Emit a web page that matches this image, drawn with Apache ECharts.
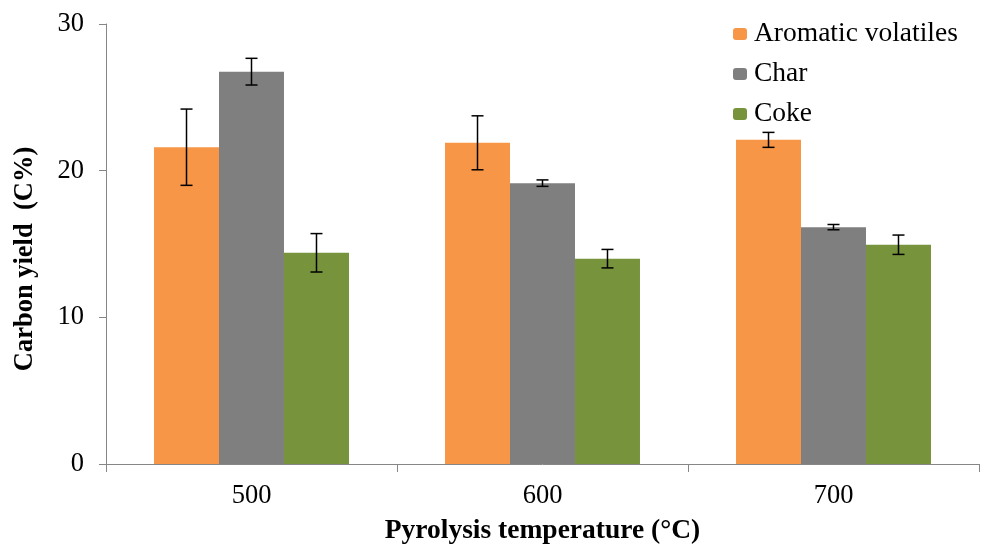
<!DOCTYPE html>
<html>
<head>
<meta charset="utf-8">
<script src="https://cdn.jsdelivr.net/npm/echarts@6/dist/echarts.min.js"></script>
<style>html,body{margin:0;padding:0;background:#fff;}#c{width:982px;height:546px;}</style>
</head>
<body>
<div id="c"></div>
<script>
const categories = ['500', '600', '700'];
const seriesNames = ['Aromatic volatiles', 'Char', 'Coke'];
const aromatic = [21.6, 21.9, 22.1];
const charY = [26.75, 19.15, 16.15];
const coke = [14.4, 14.0, 14.95];
const aromaticErr = [2.6, 1.84, 0.51];
const charErr = [0.91, 0.22, 0.18];
const cokeErr = [1.31, 0.63, 0.66];
const yTicks = [0, 10, 20, 30];
const colors = ['#F79646', '#7F7F7F', '#77933C'];

const values = [aromatic, charY, coke];
const errs = [aromaticErr, charErr, cokeErr];
const FONT = '"Liberation Serif", "Times New Roman", serif';
const CAT_GAP = 0.33;

const errData = [];
values.forEach((arr, s) => arr.forEach((v, i) => errData.push([i, v, errs[s][i], s])));

const chart = echarts.init(document.getElementById('c'));
chart.setOption({
  animation: false,
  backgroundColor: '#fff',
  textStyle: { fontFamily: FONT },
  grid: { left: 106, right: 3, top: 24, bottom: 82, containLabel: false, outerBoundsMode: 'none' },
  graphic: [{
    type: 'text',
    x: 25, y: 259,
    rotation: Math.PI / 2,
    style: {
      text: 'Carbon yield  (C%)',
      font: 'bold 26.5px ' + FONT,
      fill: '#000',
      align: 'center',
      verticalAlign: 'middle'
    }
  }],
  legend: {
    orient: 'vertical',
    left: 733, top: 20, padding: 0,
    itemWidth: 14, itemHeight: 12, itemGap: 12,
    data: seriesNames,
    textStyle: { fontFamily: FONT, fontSize: 27.5, color: '#000', lineHeight: 27.5, padding: [0, 0, 0, 2] }
  },
  xAxis: {
    type: 'category',
    data: categories,
    name: 'Pyrolysis temperature (°C)',
    nameLocation: 'middle',
    nameGap: 53,
    nameTextStyle: { fontFamily: FONT, fontSize: 27.5, fontWeight: 'bold', color: '#000' },
    axisLine: { lineStyle: { color: '#868686', width: 1 } },
    axisTick: { show: true, length: 8, alignWithLabel: false, lineStyle: { color: '#868686' } },
    axisLabel: { fontFamily: FONT, fontSize: 26.5, color: '#000', margin: 19 }
  },
  yAxis: {
    type: 'value',
    min: yTicks[0], max: yTicks[yTicks.length - 1], interval: 10,
    splitLine: { show: false },
    axisLine: { show: true, lineStyle: { color: '#868686', width: 1 } },
    axisTick: { show: true, length: 7, lineStyle: { color: '#868686' } },
    axisLabel: { fontFamily: FONT, fontSize: 26.5, color: '#000', margin: 22 }
  },
  series: [
    ...seriesNames.map((n, s) => ({
      name: n, type: 'bar', data: values[s],
      barGap: '0%', barCategoryGap: (CAT_GAP * 100) + '%',
      itemStyle: { color: colors[s] },
      z: 2
    })),
    {
      type: 'custom', name: 'err', z: 5, silent: true,
      data: errData,
      encode: { x: 0, y: 1 },
      renderItem: function (params, api) {
        const x = api.value(0), v = api.value(1), e = api.value(2), s = api.value(3);
        const catW = api.size([1, 0])[0];
        const bw = catW * (1 - CAT_GAP) / 3;
        const cx = api.coord([x, v])[0] + (s - 1) * bw;
        const top = api.coord([x, v + e])[1];
        const bot = api.coord([x, v - e])[1];
        const hw = 6;
        const st = { stroke: '#000', lineWidth: 1.5 };
        return {
          type: 'group',
          children: [
            { type: 'line', shape: { x1: cx, y1: top, x2: cx, y2: bot }, style: st },
            { type: 'line', shape: { x1: cx - hw, y1: top, x2: cx + hw, y2: top }, style: st },
            { type: 'line', shape: { x1: cx - hw, y1: bot, x2: cx + hw, y2: bot }, style: st }
          ]
        };
      }
    }
  ]
});
</script>
</body>
</html>
